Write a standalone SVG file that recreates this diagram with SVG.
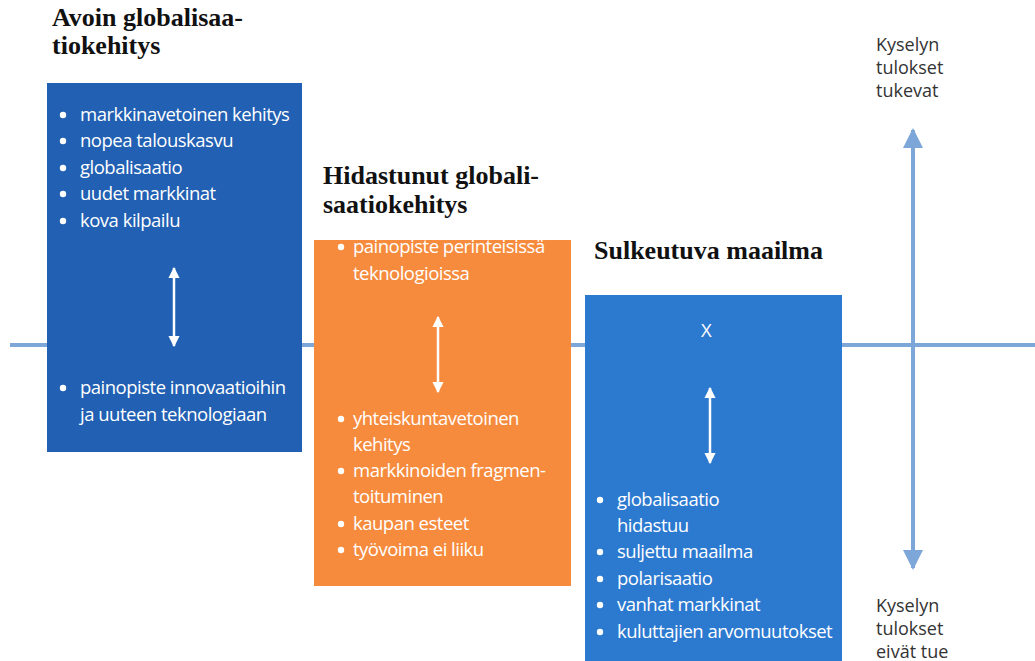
<svg xmlns="http://www.w3.org/2000/svg" width="1035" height="661" viewBox="0 0 1035 661">
  <style>
    .title { font-family: "Liberation Serif", "DejaVu Serif", serif; font-weight: bold; font-size: 26px; fill: #111; }
    .item { font-family: "Open Sans", "Noto Sans", sans-serif; font-size: 18.5px; letter-spacing: -0.5px; fill: #ffffff; }
    .dot { fill: #ffffff; }
    .axis { font-family: "Open Sans", "Noto Sans", sans-serif; font-size: 18px; fill: #333; }
    .inner { stroke: #ffffff; stroke-width: 2.5; fill: none; }
    .axisline { stroke: #7ea7d9; stroke-width: 4; fill: none; }
  </style>
  <defs>
    <marker id="wtip" viewBox="0 0 10 10" refX="9" refY="5" markerWidth="4.5" markerHeight="5" markerUnits="strokeWidth" orient="auto-start-reverse">
      <path d="M0,0 L10,5 L0,10 z" fill="#ffffff"/>
    </marker>
    <marker id="btip" viewBox="0 0 10 10" refX="9" refY="5" markerWidth="5.5" markerHeight="5" markerUnits="strokeWidth" orient="auto-start-reverse">
      <path d="M0,0 L10,5 L0,10 z" fill="#7ea7d9"/>
    </marker>
    <circle id="bul" r="3.2"/>
  </defs>
  <rect width="1035" height="661" fill="#ffffff"/>

  <!-- axes -->
  <g id="connectors">
    <line class="axisline" x1="10" y1="345" x2="1035" y2="345"/>
    <line class="axisline" x1="913" y1="568" x2="913" y2="130" marker-start="url(#btip)" marker-end="url(#btip)"/>
  </g>

  <g id="axis-labels">
    <text class="axis" x="876" y="51">Kyselyn</text>
    <text class="axis" x="876" y="74">tulokset</text>
    <text class="axis" x="876" y="97">tukevat</text>
    <text class="axis" x="876" y="612">Kyselyn</text>
    <text class="axis" x="876" y="635">tulokset</text>
    <text class="axis" x="876" y="658">eivät tue</text>
  </g>

  <!-- scenario 1 -->
  <g id="avoin">
    <text class="title" x="52" y="26">Avoin globalisaa-</text>
    <text class="title" x="52" y="54">tiokehitys</text>
    <rect x="47" y="83" width="255" height="369" fill="#2160b2"/>
    <g class="dot">
      <use href="#bul" x="63" y="115"/>
      <use href="#bul" x="63" y="141"/>
      <use href="#bul" x="63" y="168"/>
      <use href="#bul" x="63" y="194"/>
      <use href="#bul" x="63" y="221"/>
      <use href="#bul" x="63" y="388"/>
    </g>
    <g class="item">
      <text x="80" y="121">markkinavetoinen kehitys</text>
      <text x="80" y="147">nopea talouskasvu</text>
      <text x="80" y="174">globalisaatio</text>
      <text x="80" y="200">uudet markkinat</text>
      <text x="80" y="227">kova kilpailu</text>
      <text x="80" y="394">painopiste innovaatioihin</text>
      <text x="80" y="421">ja uuteen teknologiaan</text>
    </g>
    <line class="inner" x1="174" y1="268" x2="174" y2="346" marker-start="url(#wtip)" marker-end="url(#wtip)"/>
  </g>

  <!-- scenario 2 -->
  <g id="hidastunut">
    <text class="title" x="323" y="184">Hidastunut globali-</text>
    <text class="title" x="323" y="213">saatiokehitys</text>
    <rect x="314" y="240" width="257" height="346" fill="#f68b3d"/>
    <g class="dot">
      <use href="#bul" x="341" y="247"/>
      <use href="#bul" x="341" y="419"/>
      <use href="#bul" x="341" y="471"/>
      <use href="#bul" x="341" y="524"/>
      <use href="#bul" x="341" y="550"/>
    </g>
    <g class="item">
      <text x="353" y="253">painopiste perinteisissä</text>
      <text x="353" y="280">teknologioissa</text>
      <text x="353" y="425">yhteiskuntavetoinen</text>
      <text x="353" y="451">kehitys</text>
      <text x="353" y="477">markkinoiden fragmen-</text>
      <text x="353" y="503">toituminen</text>
      <text x="353" y="530">kaupan esteet</text>
      <text x="353" y="556">työvoima ei liiku</text>
    </g>
    <line class="inner" x1="438" y1="317" x2="438" y2="392" marker-start="url(#wtip)" marker-end="url(#wtip)"/>
  </g>

  <!-- scenario 3 -->
  <g id="sulkeutuva">
    <text class="title" x="594" y="259">Sulkeutuva maailma</text>
    <rect x="585" y="295" width="257" height="366" fill="#2c79d0"/>
    <g class="dot">
      <use href="#bul" x="600" y="500"/>
      <use href="#bul" x="600" y="552"/>
      <use href="#bul" x="600" y="579"/>
      <use href="#bul" x="600" y="605"/>
      <use href="#bul" x="600" y="632"/>
    </g>
    <g class="item">
      <text x="706" y="337" text-anchor="middle">X</text>
      <text x="617" y="506">globalisaatio</text>
      <text x="617" y="532">hidastuu</text>
      <text x="617" y="558">suljettu maailma</text>
      <text x="617" y="585">polarisaatio</text>
      <text x="617" y="611">vanhat markkinat</text>
      <text x="617" y="638">kuluttajien arvomuutokset</text>
    </g>
    <line class="inner" x1="710" y1="388" x2="710" y2="463" marker-start="url(#wtip)" marker-end="url(#wtip)"/>
  </g>
</svg>
